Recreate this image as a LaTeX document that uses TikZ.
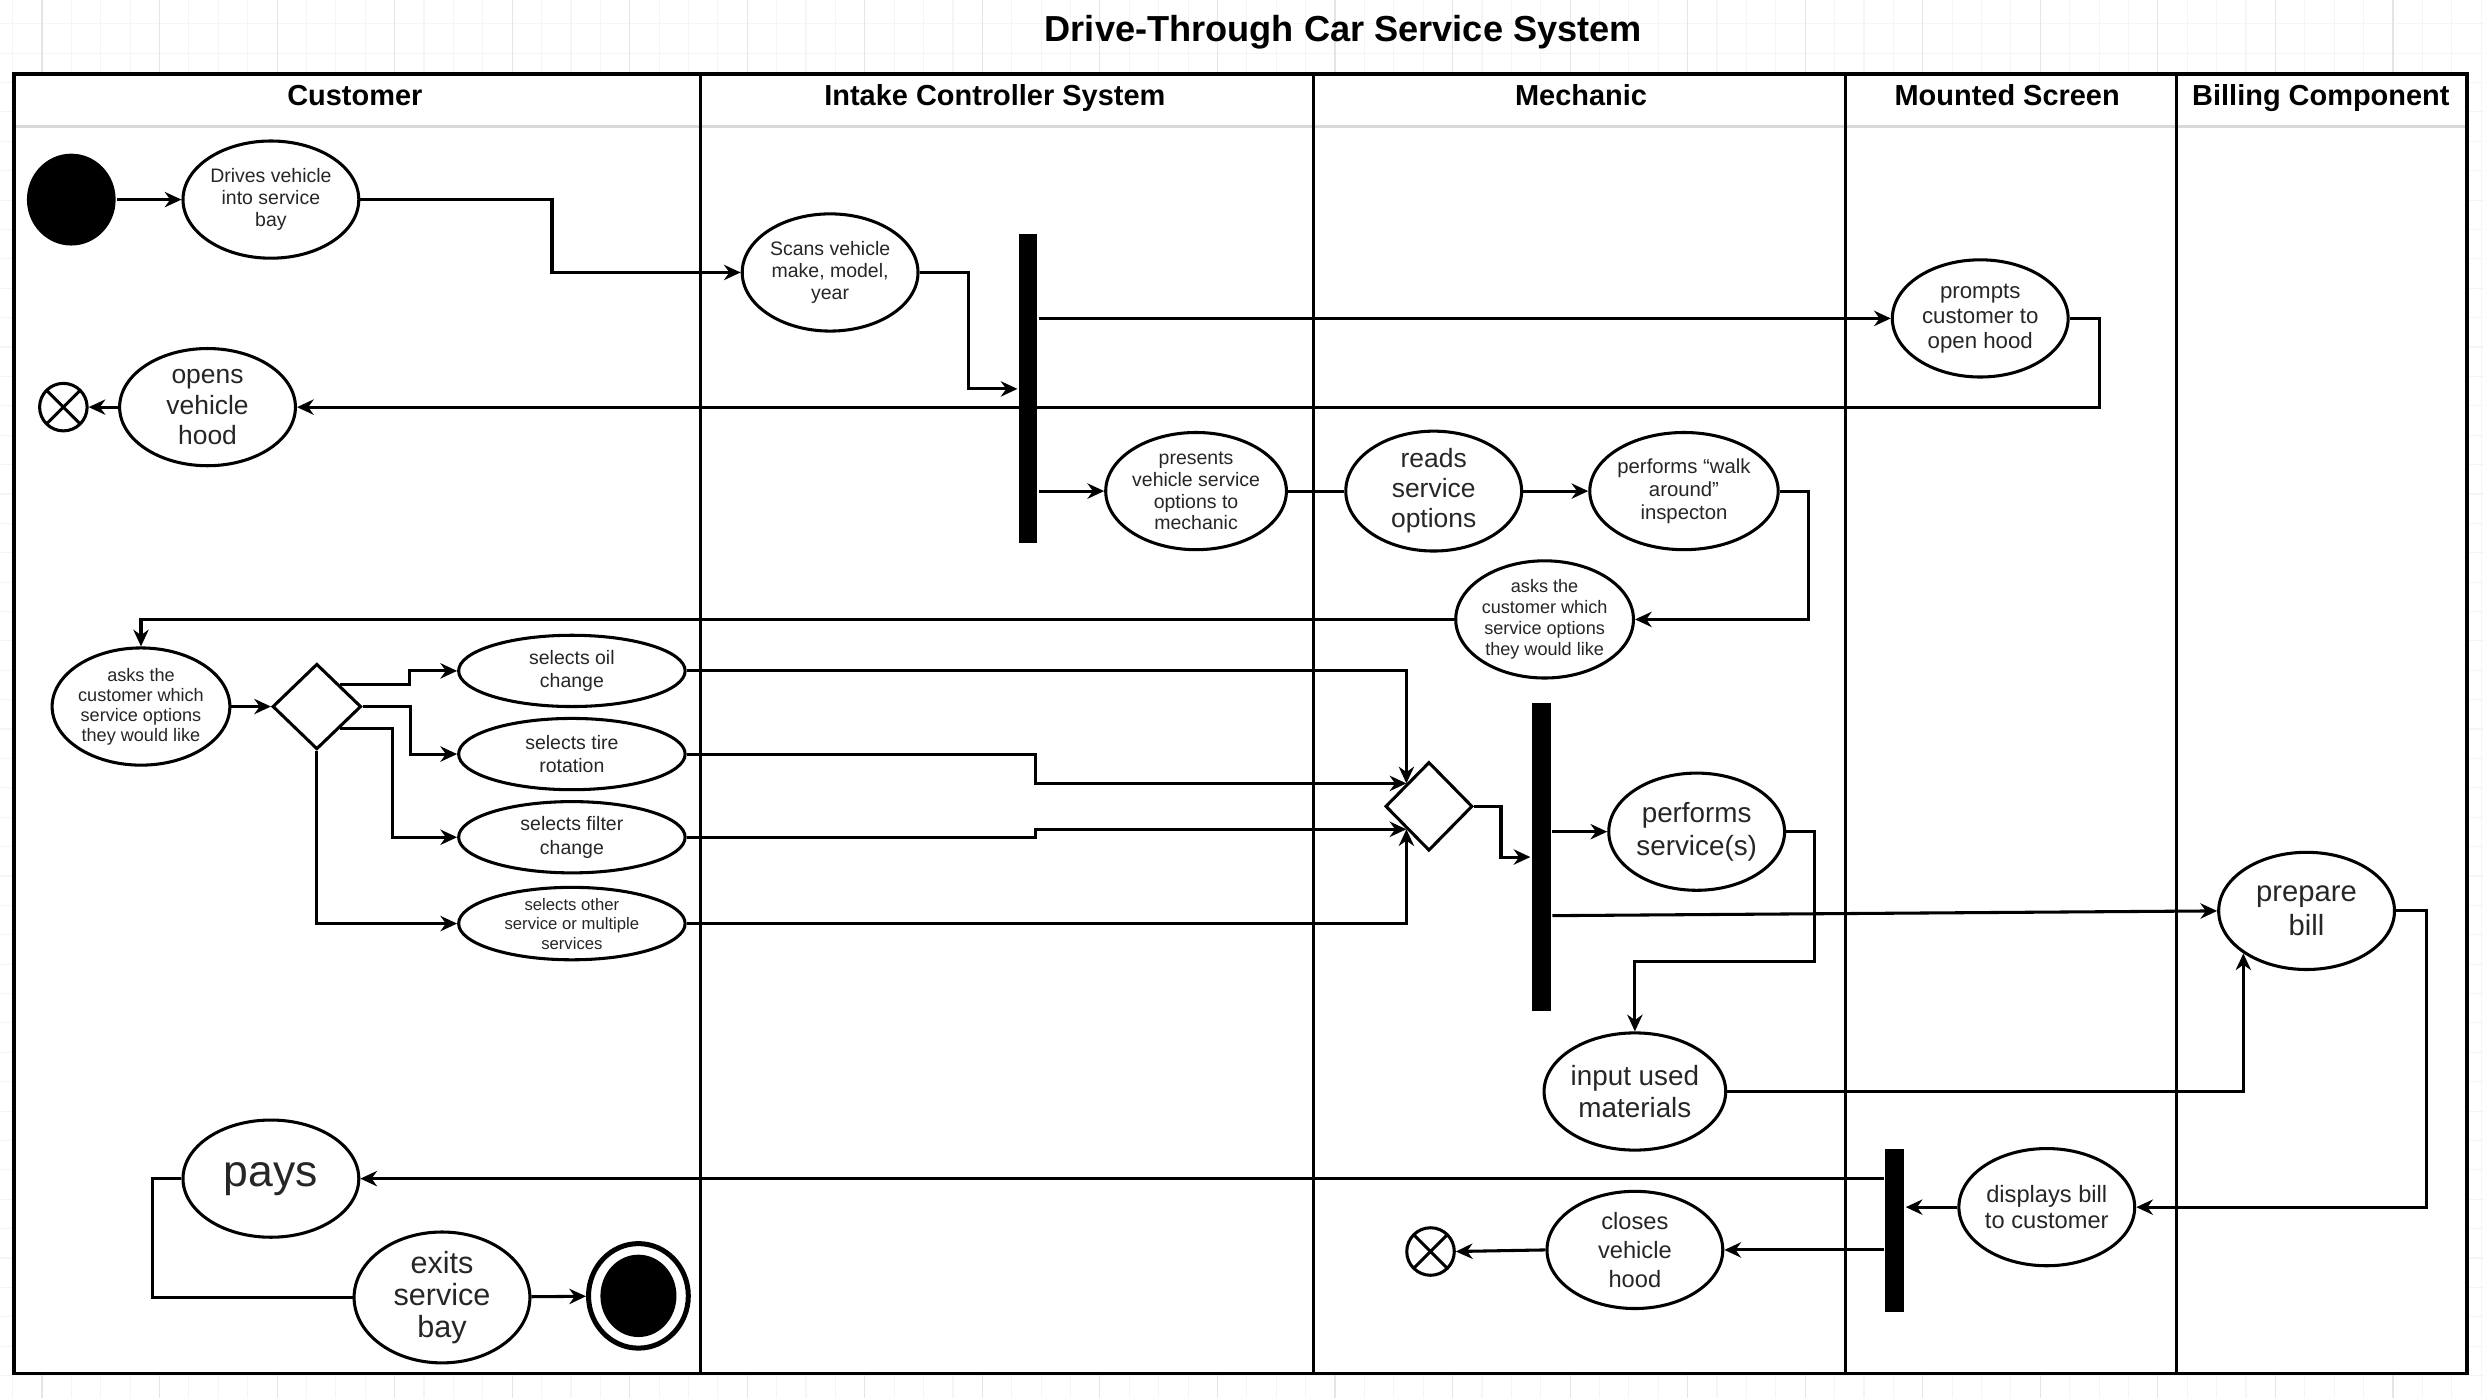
\documentclass[tikz,border=0pt]{standalone}
\usepackage{fontspec}
\setmainfont{Liberation Sans}
\usetikzlibrary{shapes.geometric}
\usetikzlibrary{arrows.meta}
\newcommand{\txtsize}[2]{\fontsize{#1}{#2}\selectfont}

\begin{document}
\begin{tikzpicture}[x=0.02cm,y=-0.02cm,line width=1.1pt,
  act/.style={draw,ellipse,inner sep=0pt,minimum width=2.22cm,minimum height=1.48cm,align=center,text=black!85},
  pick/.style={act,minimum width=2.86cm,minimum height=0.9cm},
  bar/.style={fill=black,inner sep=0pt,minimum width=0.23cm},
  dec/.style={draw,diamond,inner sep=0pt,minimum width=1.12cm,minimum height=1.08cm},
  init/.style={fill=black,ellipse,inner sep=0pt,minimum width=1.12cm,minimum height=1.16cm},
  final/.style={draw,circle,inner sep=0pt,minimum size=0.6cm,
    path picture={\draw (path picture bounding box.north west) -- (path picture bounding box.south east)
      (path picture bounding box.south west) -- (path picture bounding box.north east);}},
  arr/.style={-{Stealth[length=6pt,width=5.5pt]}},
  lane/.style={anchor=base,font=\bfseries\txtsize{10.4}{12}},
  gridline/.style={line width=0.4pt,gray!8}]
\useasboundingbox (0,0) rectangle (1568,882.5);
%\draw (0,0) rectangle (1568,882.5);
\fill[white] (0,0) rectangle (1568,882.5);
\foreach \i in {0,...,84} \draw[gridline] ({7.95+18.55*\i},0) -- ++(0,882.5);
\foreach \j in {0,...,47} \draw[gridline] (0,{15+18.55*\j}) -- ++(1568,0);
\foreach \i in {0,...,21} \draw[gridline,gray!20] ({26.5+74.2*\i},0) -- ++(0,882.5);

% lanes
\fill[white] (9,47) rectangle (1557,867);
\draw[gray!30,line width=1.2pt] (9,80) -- (1557,80);
\draw[line width=1.4pt] (9,47) rectangle (1557,867);
\foreach \x in {442,829,1165,1374} \draw[line width=1pt] (\x,47) -- (\x,867);

\node[anchor=base,font=\bfseries\txtsize{13}{15}] (title) at (848,26) {Drive-Through Car Service System};
\node[lane] (hcust) at (224,66.5) {Customer};
\node[lane] (hintake) at (628,66.5) {Intake Controller System};
\node[lane] (hmech) at (998,66.5) {Mechanic};
\node[lane] (hscreen) at (1267,66.5) {Mounted Screen};
\node[lane] (hbill) at (1465,66.5) {Billing Component};

% activities
\node[init] (start) at (45,126) {};
\node[act,font=\txtsize{7}{8}] (drive) at (171,126) {Drives vehicle\\into service\\bay};
\node[act,font=\txtsize{7}{8}] (scan) at (524,172) {Scans vehicle\\make, model,\\year};
\node[bar,minimum height=3.9cm] (fork1) at (649,245.5) {};
\node[act,font=\txtsize{8}{9}] (prompt) at (1250,201) {prompts\\customer to\\open hood};
\node[act,font=\txtsize{9.5}{11}] (open) at (131,257) {opens\\vehicle\\hood};
\node[final] (stop1) at (40,257) {};
\node[act,font=\txtsize{7}{7.8}] (present) at (755,310) {presents\\vehicle service\\options to\\mechanic};
\node[act,font=\txtsize{9.5}{10.8}] (read) at (905,310) {reads\\service\\options};
\node[act,font=\txtsize{7.3}{8.2}] (walk) at (1063,310) {performs “walk\\around”\\inspecton};
\node[act,font=\txtsize{6.5}{7.6}] (askm) at (975,391) {asks the\\customer which\\service options\\they would like};
\node[act,minimum width=2.18cm,font=\txtsize{6.5}{7.2}] (askc) at (89,446) {asks the\\customer which\\service options\\they would like};
\node[dec] (choose) at (200,446) {};
\node[pick,font=\txtsize{7}{8.5}] (oil) at (361,423.5) {selects oil\\change};
\node[pick,font=\txtsize{7}{8.5}] (tire) at (361,476) {selects tire\\rotation};
\node[pick,font=\txtsize{7}{8.5}] (filter) at (361,528.5) {selects filter\\change};
\node[pick,font=\txtsize{6}{7}] (other) at (361,583) {selects other\\service or multiple\\services};
\node[dec,minimum width=1.1cm,minimum height=1.12cm] (merge) at (902,509) {};
\node[bar,minimum width=0.24cm,minimum height=3.9cm] (fork2) at (973,541) {};
\node[act,font=\txtsize{10}{12}] (serv) at (1071,525) {performs\\service(s)};
\node[act,font=\txtsize{10.5}{12}] (bill) at (1456,575) {prepare\\bill};
\node[act,font=\txtsize{10}{11.4}] (input) at (1032,689) {input used\\materials};
\node[bar,minimum width=0.24cm,minimum height=2.06cm] (join) at (1196,777) {};
\node[act,font=\txtsize{8.5}{9.6}] (disp) at (1292,762) {displays bill\\to customer};
\node[act,font=\txtsize{8.5}{10.5}] (close) at (1032,789) {closes\\vehicle\\hood};
\node[final] (stop2) at (903,790) {};
\node[act,font=\txtsize{16}{18}] (pay) at (171,744) {\raisebox{-2pt}{pays}};
\node[act,font=\txtsize{11}{11.5}] (exit) at (279,819) {exits\\service\\bay};
\node[draw,ellipse,line width=1.8pt,minimum width=1.26cm,minimum height=1.32cm] (end) at (403,818) {};
\node[fill=black,ellipse,inner sep=0pt,minimum width=0.96cm,minimum height=1.04cm] (endin) at (end) {};

% flow
\draw[arr] (start) -- (drive);
\draw[arr] (drive.east) -- ++(121,0) |- (scan.west);
\draw[arr] (scan.east) -- ++(31,0) |- (fork1.west);
\draw[arr] (fork1.east |- prompt.west) -- (prompt.west);
\draw[arr] (prompt.east) -- ++(19,0) |- (open.east);
\draw[arr] (open.west) -- (stop1.east);
\draw[arr] (fork1.east |- present.west) -- (present.west);
\draw (present) -- (read);
\draw[arr] (read) -- (walk);
\draw[arr] (walk.east) -- ++(18,0) |- (askm.east);
\draw[arr] (askm.west) -| (askc.north);
\draw[arr] (askc) -- (choose);
\draw[arr] (choose.north east) -- ++(44,0) |- (oil.west);
\draw[arr] (choose.east) -- ++(30,0) |- (tire.west);
\draw[arr] (choose.south east) -- ++(33,0) |- (filter.west);
\draw[arr] (choose.south) |- (other.west);
\draw[arr] (oil.east) -| (merge.north west);
\draw[arr] (tire.east) -- ++(220,0) |- (merge.north west);
\draw[arr] (filter.east) -- ++(220,0) |- (merge.south west);
\draw[arr] (other.east) -| (merge.south west);
\draw[arr] (merge.east) -- ++(17,0) |- (fork2.west);
\draw[arr] (fork2.east |- serv.west) -- (serv.west);
\draw[arr] (fork2.east) ++(0,37) -- (bill.west);
\draw[arr] (serv.east) -- ++(18,0) -- ++(0,82) -| (input.north);
\draw[arr] (input.east) -| (bill.south west);
\draw[arr] (bill.east) -- ++(19,0) |- (disp.east);
\draw[arr] (disp.west) -- (join.east |- disp.west);
\draw[arr] (join.west |- close.east) -- (close.east);
\draw[arr] (close.west) -- (stop2.east);
\draw[arr] (join.west |- pay.east) -- (pay.east);
\draw (pay.west) -- ++(-18,0) |- (exit.west);
\draw[arr] (exit) -- (end);
\end{tikzpicture}
\end{document}
